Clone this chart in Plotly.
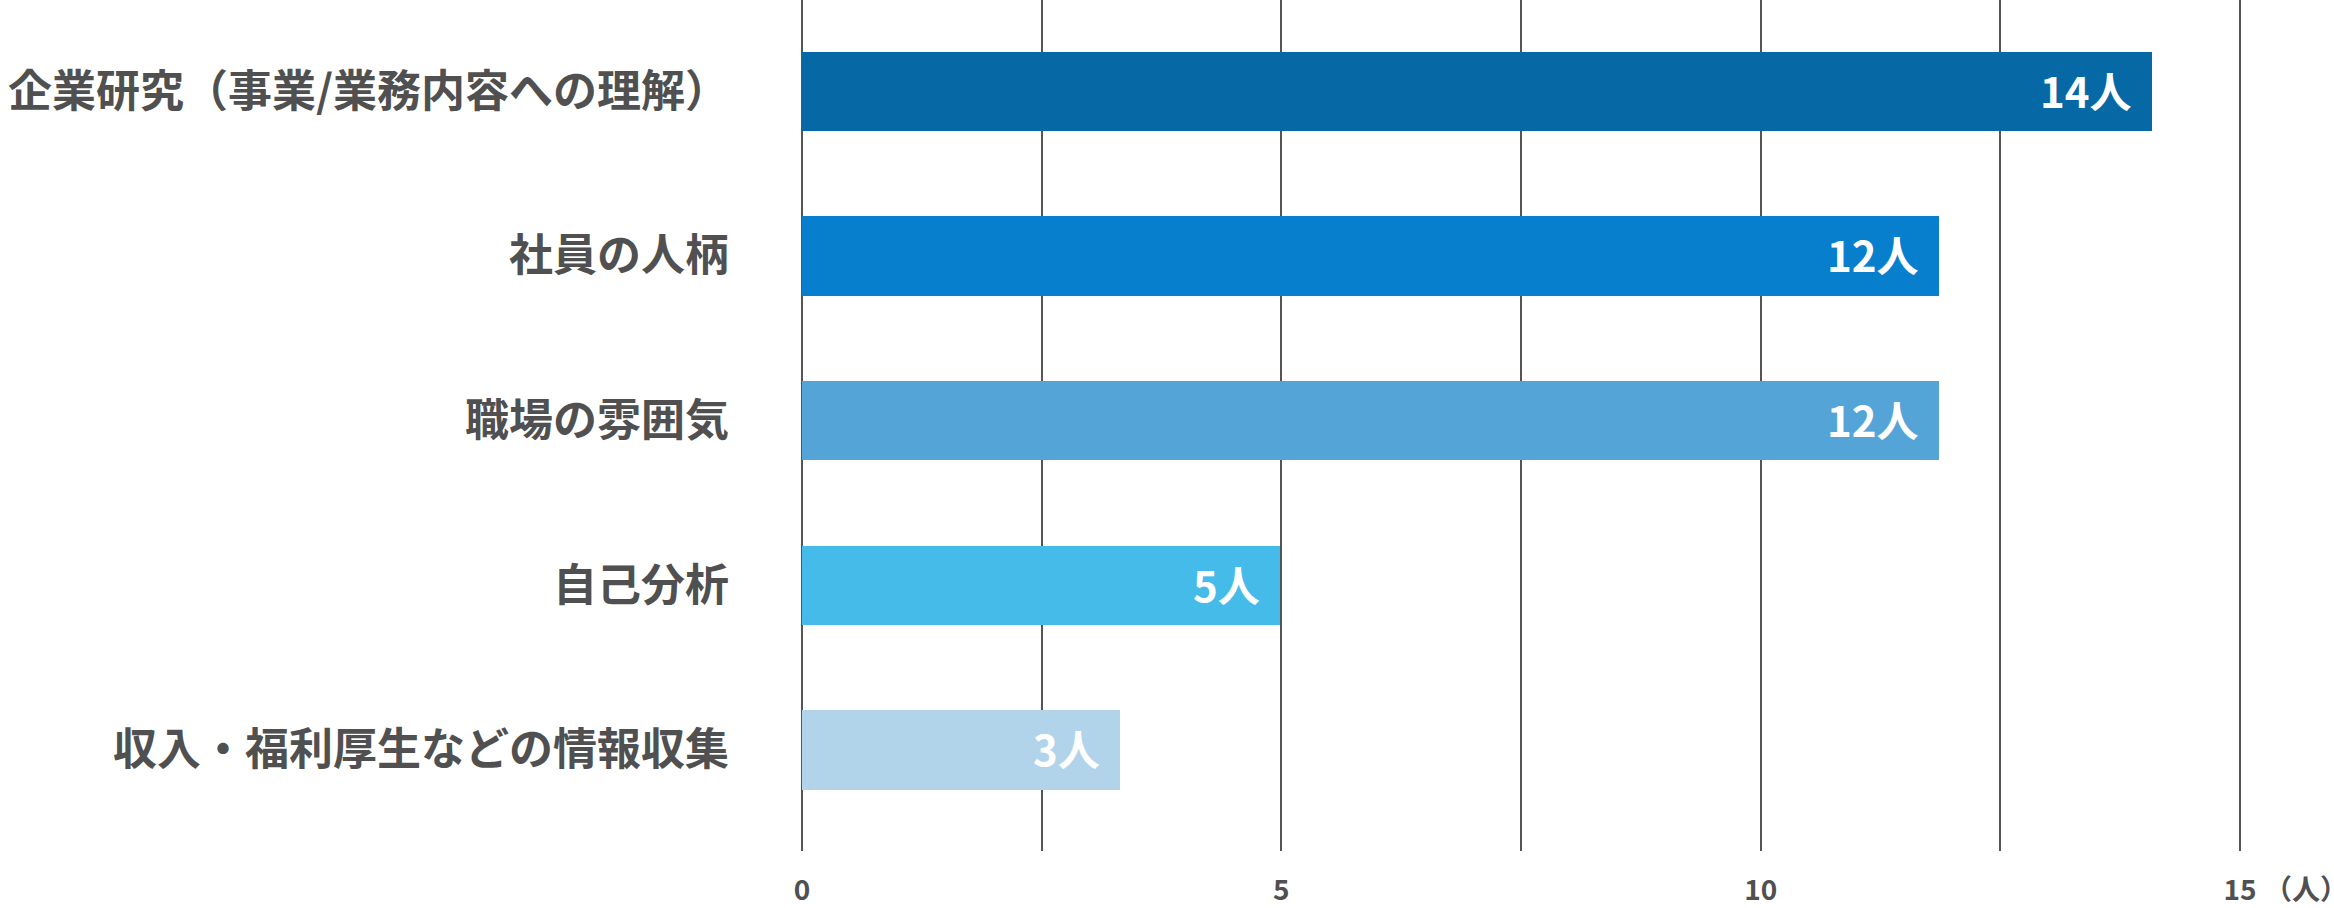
import plotly.graph_objects as go

# ---- data ----
categories = [
    "企業研究（事業/業務内容への理解）",
    "社員の人柄",
    "職場の雰囲気",
    "自己分析",
    "収入・福利厚生などの情報収集",
]
counts = [14, 12, 12, 5, 3]                      # values printed on the bars
bar_lengths = [14.08, 11.86, 11.86, 4.99, 3.32]  # bar ends as drawn in the picture
bar_colors = ["#0668a5", "#077fcd", "#54a4d7", "#45bbea", "#b1d4ea"]
grid_vals = [0, 2.5, 5, 7.5, 10, 12.5, 15]
grid_text = ["0", "", "5", "", "10", "", "15"]
unit_label = "（人）"
unit_at = 15

FONT = "Noto Sans CJK JP"
TXT = "#505050"

fig = go.Figure()
fig.add_trace(go.Bar(
    x=bar_lengths,
    y=categories,
    orientation="h",
    marker=dict(color=bar_colors, line=dict(width=0)),
    width=0.482,
    hoverinfo="skip",
))

for cat, val, length in zip(categories, counts, bar_lengths):
    fig.add_annotation(
        x=length, y=cat, xref="x", yref="y",
        text=f"{val}人", showarrow=False,
        xanchor="right", yanchor="middle", xshift=-18, yshift=2,
        font=dict(family=FONT, size=42, color="white", weight="bold"),
    )

fig.add_annotation(
    x=unit_at, y=0, xref="x", yref="paper",
    text=unit_label, showarrow=False,
    xanchor="left", yanchor="top", xshift=22, yshift=-15,
    font=dict(family=FONT, size=28, color=TXT, weight="bold"),
)

fig.update_layout(
    width=2334, height=908,
    margin=dict(l=802, r=92, t=0, b=50, pad=0),
    paper_bgcolor="white", plot_bgcolor="white",
    showlegend=False,
    bargap=0,
    xaxis=dict(
        range=[0, 15.02], tickmode="array", tickvals=grid_vals, ticktext=grid_text,
        showgrid=True, gridcolor="#555555", gridwidth=2,
        zeroline=True, zerolinecolor="#555555", zerolinewidth=2,
        showline=False, ticks="", ticklabelstandoff=20,
        tickfont=dict(family=FONT, size=28, color=TXT, weight="bold"),
    ),
    yaxis=dict(
        type="category", range=[4.614, -0.554],
        showgrid=False, zeroline=False, showline=False, ticks="",
        ticklabelstandoff=72,
        tickfont=dict(family=FONT, size=44, color=TXT, weight="bold"),
    ),
)

fig.write_html(
    "out.html",
    config={"displayModeBar": False},
    post_script="document.body.style.margin='0';document.body.style.overflow='hidden';",
)
